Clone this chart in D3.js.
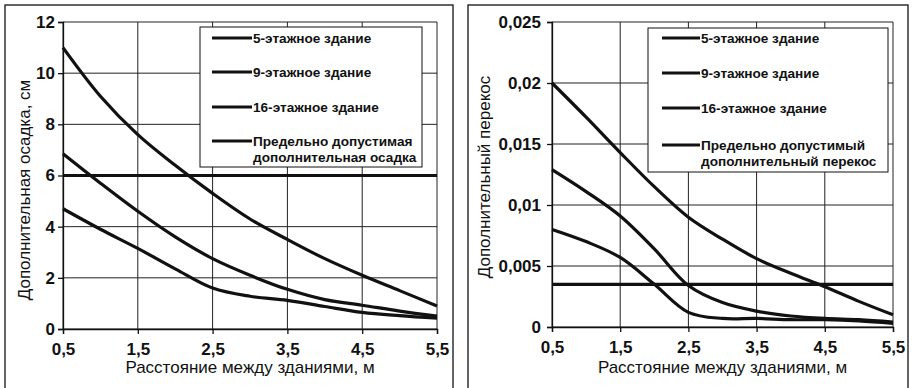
<!DOCTYPE html>
<html>
<head>
<meta charset="utf-8">
<script src="https://cdn.jsdelivr.net/npm/d3@7"></script>
<style>
  html, body { margin: 0; padding: 0; background: #fff; }
  svg { display: block; font-family: "Liberation Sans", Arial, sans-serif; }
</style>
</head>
<body>
<svg id="chart" width="916" height="388"></svg>
<script>
// Distance between buildings, m
const distances = [0.5, 1, 1.5, 2, 2.5, 3, 3.5, 4, 4.5, 5, 5.5];
const xTicks = [0.5, 1.5, 2.5, 3.5, 4.5, 5.5];

// Left chart: additional settlement, cm
const settle5 = [4.7, 3.9, 3.15, 2.35, 1.6, 1.28, 1.12, 0.88, 0.65, 0.52, 0.42];
const settle9 = [6.85, 5.7, 4.6, 3.6, 2.75, 2.1, 1.55, 1.15, 0.93, 0.7, 0.5];
const settle16 = [11.0, 9.1, 7.6, 6.4, 5.3, 4.3, 3.5, 2.75, 2.1, 1.5, 0.9];
const settleLimit = 6;
const settleTicks = [0, 2, 4, 6, 8, 10, 12];

// Right chart: additional skew
const skew5 = [0.0080, 0.0070, 0.0057, 0.0035, 0.0012, 0.0007, 0.0007, 0.0006, 0.0006, 0.0005, 0.0003];
const skew9 = [0.0129, 0.0111, 0.0091, 0.0064, 0.0034, 0.0020, 0.0013, 0.0009, 0.0007, 0.0006, 0.0004];
const skew16 = [0.0200, 0.0172, 0.0143, 0.0115, 0.0090, 0.0072, 0.0056, 0.0044, 0.0033, 0.0021, 0.0010];
const skewLimit = 0.0035;
const skewTicks = [0, 0.005, 0.01, 0.015, 0.02, 0.025];

const seriesNames = ["5-этажное здание", "9-этажное здание", "16-этажное здание"];
const xTitle = "Расстояние между зданиями, м";

const fmt = v => String(v).replace(".", ",");

const svg = d3.select("#chart");

function drawPanel(cfg) {
    const g = svg.append("g");

    // outer frame of the panel
    g.append("rect")
        .attr("x", cfg.frame[0]).attr("y", cfg.frame[1])
        .attr("width", cfg.frame[2]).attr("height", cfg.frame[3])
        .attr("fill", "none").attr("stroke", "#111").attr("stroke-width", 1.3);

    const x = d3.scaleLinear().domain([0.5, 5.5]).range([cfg.left, cfg.right]);
    const y = d3.scaleLinear().domain(cfg.yDomain).range([cfg.bottom, cfg.top]);

    // gridlines
    g.append("g").selectAll("line").data(cfg.yTicks).join("line")
        .attr("x1", cfg.left).attr("x2", cfg.right)
        .attr("y1", d => y(d)).attr("y2", d => y(d))
        .attr("stroke", "#222").attr("stroke-width", 1);
    g.append("g").selectAll("line").data(xTicks).join("line")
        .attr("x1", d => x(d)).attr("x2", d => x(d))
        .attr("y1", cfg.top).attr("y2", cfg.bottom)
        .attr("stroke", "#222").attr("stroke-width", 1);

    // axes
    g.append("g")
        .attr("transform", `translate(0,${cfg.bottom})`)
        .call(d3.axisBottom(x).tickValues(xTicks).tickFormat(fmt).tickSize(5).tickPadding(9))
        .call(a => a.selectAll("text").attr("font-size", 17).attr("font-weight", "bold").attr("fill", "#111"))
        .call(a => a.selectAll("path,line").attr("stroke", "#111").attr("stroke-width", 1.3))
        .attr("font-family", null);
    g.append("g")
        .attr("transform", `translate(${cfg.left},0)`)
        .call(d3.axisLeft(y).tickValues(cfg.yTicks).tickFormat(fmt).tickSize(5).tickPadding(cfg.yPad))
        .call(a => a.selectAll("text").attr("font-size", 17).attr("font-weight", "bold").attr("fill", "#111"))
        .call(a => a.selectAll("path,line").attr("stroke", "#111").attr("stroke-width", 1.3))
        .attr("font-family", null);

    // axis titles
    g.append("text")
        .attr("x", (cfg.left + cfg.right) / 2).attr("y", 373)
        .attr("text-anchor", "middle").attr("font-size", 17).attr("fill", "#111")
        .text(xTitle);
    g.append("text")
        .attr("transform", `translate(${cfg.yTitleX},${cfg.yTitleY}) rotate(-90)`)
        .attr("text-anchor", "middle").attr("font-size", 17).attr("fill", "#111")
        .text(cfg.yTitle);

    // data curves
    const line = d3.line()
        .x((d, i) => x(distances[i]))
        .y(d => y(d))
        .curve(d3.curveCatmullRom.alpha(0.5));
    g.append("g").selectAll("path").data(cfg.series).join("path")
        .attr("d", line)
        .attr("fill", "none").attr("stroke", "#111").attr("stroke-width", 3.2)
        .attr("stroke-linejoin", "round");

    // limit line
    g.append("line")
        .attr("x1", cfg.left).attr("x2", cfg.right)
        .attr("y1", y(cfg.limit)).attr("y2", y(cfg.limit))
        .attr("stroke", "#111").attr("stroke-width", 3.2);

    // legend
    const lg = cfg.legend;
    g.append("rect")
        .attr("x", lg.x).attr("y", lg.y).attr("width", lg.w).attr("height", lg.h)
        .attr("fill", "#fff").attr("stroke", "#111").attr("stroke-width", 1);
    const labels = seriesNames.map(s => [s]).concat([cfg.limitLabel]);
    labels.forEach((lines, i) => {
        const cy = lg.rows[i];
        g.append("line")
            .attr("x1", lg.lineX0).attr("x2", lg.lineX1)
            .attr("y1", cy).attr("y2", cy)
            .attr("stroke", "#111").attr("stroke-width", 3);
        const t = g.append("text")
            .attr("x", lg.lineX1 + 1).attr("y", cy + 5)
            .attr("font-size", 13.6).attr("font-weight", "bold").attr("fill", "#111");
        lines.forEach((s, j) => {
            t.append("tspan").attr("x", lg.lineX1 + 1).attr("dy", j === 0 ? 0 : 16).text(s);
        });
    });
}

drawPanel({
    frame: [5, 5, 448, 390],
    left: 63, right: 437, top: 22, bottom: 329,
    yDomain: [0, 12], yTicks: settleTicks, yPad: 3,
    yTitle: "Дополнительная осадка, см", yTitleX: 30, yTitleY: 190,
    series: [settle5, settle9, settle16],
    limit: settleLimit,
    limitLabel: ["Предельно допустимая", "дополнительная осадка"],
    legend: { x: 200, y: 27, w: 222, h: 140, lineX0: 212, lineX1: 252, rows: [38, 72, 107, 141] }
});

drawPanel({
    frame: [468, 5, 440, 390],
    left: 552, right: 893, top: 22, bottom: 327,
    yDomain: [0, 0.025], yTicks: skewTicks, yPad: 6,
    yTitle: "Дополнительный перекос", yTitleX: 490, yTitleY: 177,
    series: [skew5, skew9, skew16],
    limit: skewLimit,
    limitLabel: ["Предельно допустимый", "дополнительный перекос"],
    legend: { x: 648, y: 28, w: 240, h: 144, lineX0: 662, lineX1: 700, rows: [38, 73, 108, 145] }
});
</script>
</body>
</html>
